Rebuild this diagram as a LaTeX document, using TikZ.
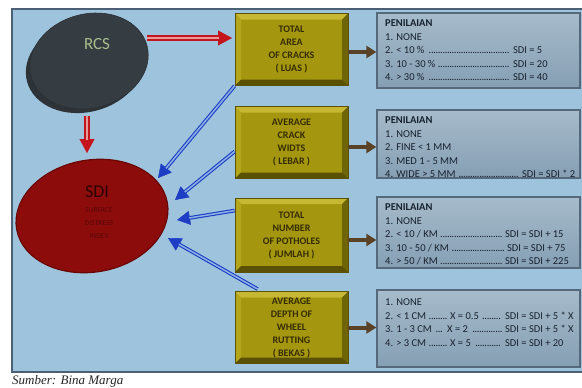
\documentclass[tikz,border=0pt]{standalone}
\usepackage{fontspec}
\setmainfont{Carlito}
\newfontfamily\srcfont{Liberation Serif}
\usetikzlibrary{shapes.geometric,arrows.meta,calc}
\definecolor{bgBlue}{HTML}{9EC3DC}
\definecolor{frameC}{HTML}{4B6074}
\definecolor{rcsFill}{HTML}{363D42}
\definecolor{rcsRim}{HTML}{2D3337}
\definecolor{rcsEdge}{HTML}{2A2F33}
\definecolor{rcsText}{HTML}{A8BE8C}
\definecolor{sdiFill}{HTML}{8C0C0C}
\definecolor{sdiEdge}{HTML}{6A0505}
\definecolor{sdiText}{HTML}{2B0303}
\definecolor{sdiSmall}{HTML}{5A0707}
\definecolor{yFace}{HTML}{A4970F}
\definecolor{yLight}{HTML}{C6B833}
\definecolor{yMid}{HTML}{B3A51C}
\definecolor{yDark}{HTML}{6F6506}
\definecolor{yDarker}{HTML}{5A5104}
\definecolor{yText}{HTML}{352B00}
\definecolor{gTop}{HTML}{A6BBCB}
\definecolor{gBot}{HTML}{869FB3}
\definecolor{gBorder}{HTML}{56697A}
\definecolor{gText}{HTML}{17222F}
\definecolor{blueA}{HTML}{1D3DC4}
\definecolor{blueIn}{HTML}{8EB2E6}
\definecolor{redA}{HTML}{C4141C}
\definecolor{redIn}{HTML}{E69A9A}
\definecolor{brownA}{HTML}{5A4226}
\newcommand\tdots{\leaders\hbox to 2.3pt{\hss.\hss}\hfill}
\newcommand\dotrow[3]{\makebox[#1][l]{#2\ \tdots\ }#3}
\tikzset{
  ybox/.style={rectangle, minimum width=113pt, minimum height=72pt, inner sep=0pt,
    fill=yFace, draw=yDarker, line width=0.8pt, align=center,
    font=\bfseries\fontsize{10}{13}\selectfont, text=yText,
    path picture={
      \fill[yLight] (path picture bounding box.north west) -- (path picture bounding box.north east)
        -- ([xshift=-6pt,yshift=-6pt]path picture bounding box.north east)
        -- ([xshift=6pt,yshift=-6pt]path picture bounding box.north west) -- cycle;
      \fill[yMid] (path picture bounding box.north west) -- (path picture bounding box.south west)
        -- ([xshift=6pt,yshift=6pt]path picture bounding box.south west)
        -- ([xshift=6pt,yshift=-6pt]path picture bounding box.north west) -- cycle;
      \fill[yDark] (path picture bounding box.north east) -- (path picture bounding box.south east)
        -- ([xshift=-6pt,yshift=6pt]path picture bounding box.south east)
        -- ([xshift=-6pt,yshift=-6pt]path picture bounding box.north east) -- cycle;
      \fill[yDarker] (path picture bounding box.south west) -- (path picture bounding box.south east)
        -- ([xshift=-6pt,yshift=6pt]path picture bounding box.south east)
        -- ([xshift=6pt,yshift=6pt]path picture bounding box.south west) -- cycle;
    }},
  gbox/.style={rectangle, minimum width=203pt, inner sep=0pt, draw=gBorder, line width=1.3pt,
    top color=gTop, bottom color=gBot},
  gtext/.style={anchor=north west, inner sep=0pt, align=left, text=gText,
    font=\fontsize{10.5}{13.5}\selectfont},
  bluehead/.style={draw=blueA, fill=blueA, line width=0.4pt, -{Triangle[length=13pt,width=14pt]}},
  blueshaft/.style={draw=blueA, line width=1.1pt, double=blueIn, double distance=1.5pt, shorten >=12.5pt},
  redhead/.style={draw=redA, fill=redA, line width=0.4pt, -{Triangle[length=14pt,width=15pt]}},
  redshaft/.style={draw=redA, line width=1.6pt, double=redIn, double distance=2pt, shorten >=13.5pt},
  brownarrow/.style={draw=brownA, line width=4pt, -{Triangle[length=10pt,width=12pt]}},
}
\begin{document}
\begin{tikzpicture}[x=1pt,y=-1pt]
\useasboundingbox (0,0) rectangle (582,388);
\clip (0,0) rectangle (582,388);
\fill[white] (0,0) rectangle (582,388);
% frame
\draw[fill=bgBlue, draw=frameC, line width=2.5pt] (12,9) rectangle (610,372);
\node[anchor=base west, inner sep=0pt, font=\srcfont\itshape\fontsize{13}{15}\selectfont, text=black!85]
  (src) at (12,384) {Sumber: Bina Marga};

% ellipses
\fill[rcsRim, rotate around={15:(85,66)}] (85,66) ellipse [x radius=60pt, y radius=46pt];
\node[ellipse, minimum width=120pt, minimum height=94pt, rotate=15, fill=rcsFill, draw=rcsEdge, line width=0.6pt] (rcs) at (89,61) {};
\node[text=rcsText, font=\fontsize{17}{20}\selectfont] (rcst) at (97,44) {RCS};
\node[ellipse, minimum width=153pt, minimum height=112pt, rotate=10, fill=sdiFill, draw=sdiEdge, line width=1.2pt] (sdi) at (92,216) {};
\node[text=sdiText, font=\fontsize{18}{20}\selectfont] (sdit) at (97,192) {SDI};
\node[text=sdiSmall, align=center, font=\fontsize{7.5}{13}\selectfont] (sdis) at (99,223) {SURFACE\\DISTRESS\\INDEX};

% yellow boxes
\node[ybox] (b1) at (291.5,49.5) {TOTAL\\AREA\\OF CRACKS\\( LUAS )};
\node[ybox] (b2) at (291.5,142.5) {AVERAGE\\CRACK\\WIDTS\\( LEBAR )};
\node[ybox, minimum height=74pt] (b3) at (291.5,235) {TOTAL\\NUMBER\\OF POTHOLES\\( JUMLAH )};
\node[ybox] (b4) at (291.5,327.5) {AVERAGE\\DEPTH OF\\WHEEL\\RUTTING\\( BEKAS )};

% gray boxes
\node[gbox, minimum height=75pt] (gA) at (478.5,50.5) {};
\node[gbox, minimum height=68pt] (gB) at (478.5,144) {};
\node[gbox, minimum height=71pt] (gC) at (478.5,232.5) {};
\node[gbox, minimum height=77pt] (gD) at (478.5,328.5) {};

\node[gtext] (tA) at (385,19.5) {\textbf{PENILAIAN}\\1. NONE\\
  \dotrow{128pt}{2. < 10 \%}{SDI = 5}\\
  \dotrow{128pt}{3. 10 - 30 \%}{SDI = 20}\\
  \dotrow{128pt}{4. > 30 \%}{SDI = 40}};
\node[gtext] (tB) at (385,116.5) {\textbf{PENILAIAN}\\1. NONE\\2. FINE < 1 MM\\3. MED 1 - 5 MM\\
  \dotrow{137pt}{4. WIDE > 5 MM}{SDI = SDI * 2}};
\node[gtext] (tC) at (385,203.5) {\textbf{PENILAIAN}\\1. NONE\\
  \dotrow{120pt}{2. < 10 / KM}{SDI = SDI + 15}\\
  \dotrow{122pt}{3. 10 - 50 / KM}{SDI = SDI + 75}\\
  \dotrow{120pt}{4. > 50 / KM}{SDI = SDI + 225}};
\node[gtext] (tD) at (385,298.5) {1. NONE\\
  \dotrow{65pt}{2. < 1 CM}{\dotrow{55pt}{X = 0.5}{SDI = SDI + 5 * X}}\\
  \dotrow{62pt}{3. 1 - 3 CM}{\dotrow{58pt}{X = 2}{SDI = SDI + 5 * X}}\\
  \dotrow{65pt}{4. > 3 CM}{\dotrow{55pt}{X = 5}{SDI = SDI + 20}}};

% brown arrows
\coordinate (a1) at ([yshift=-2.5pt]b1.east);
\coordinate (a2) at ([yshift=-4.5pt]b2.east);
\coordinate (a3) at ([yshift=-5pt]b3.east);
\coordinate (a4) at (b4.east);
\draw[brownarrow] (a1) -- (a1 -| gA.west);
\draw[brownarrow] (a2) -- (a2 -| gB.west);
\draw[brownarrow] (a3) -- (a3 -| gC.west);
\draw[brownarrow] (a4) -- (a4 -| gD.west);

% red arrows
\coordinate (r1) at (147,38);
\coordinate (r1e) at (232,38);
\coordinate (r2) at (87,116);
\coordinate (r2e) at (87,153);
\draw[redhead] (r1) -- (r1e);
\draw[redshaft] (r1) -- (r1e);
\draw[redhead] (r2) -- (r2e);
\draw[redshaft] (r2) -- (r2e);

% blue arrows
\coordinate (s1) at (b1.south west);
\coordinate (s2) at ([yshift=-9pt]b2.west);
\coordinate (s3) at ([yshift=-13pt]b3.north west);
\coordinate (s4) at ([xshift=23pt,yshift=2pt]b4.north west);
\coordinate (t1) at (158,178);
\coordinate (t2) at (175,200);
\coordinate (t3) at (177,220);
\coordinate (t4) at (168,238);
\foreach \s/\t in {s1/t1,s2/t2,s3/t3,s4/t4}{
  \draw[bluehead] (\s) -- (\t);
  \draw[blueshaft] (\s) -- (\t);
}
\end{tikzpicture}
\end{document}
